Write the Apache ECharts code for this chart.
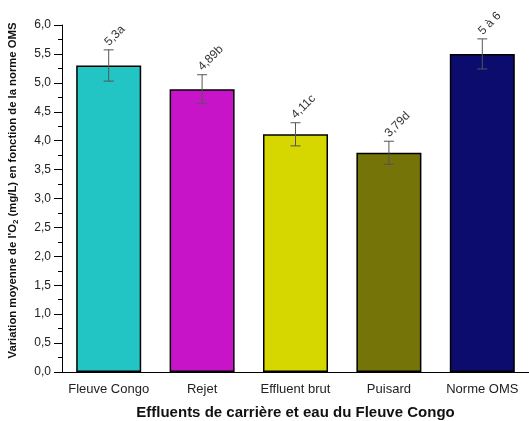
<!DOCTYPE html>
<html>
<head>
<meta charset="utf-8">
<script src="https://cdn.jsdelivr.net/npm/echarts@6/dist/echarts.min.js"></script>
<style>html,body{margin:0;padding:0;background:#fff}#c{width:529px;height:421px}</style>
</head>
<body>
<div id="c"></div>
<script>
const categories = ['Fleuve Congo', 'Rejet', 'Effluent brut', 'Puisard', 'Norme OMS'];
const means = [5.3, 4.89, 4.11, 3.79, 5.5];
const errors = [0.27, 0.25, 0.2, 0.2, 0.26];
const barLabels = ['5,3a', '4,89b', '4,11c', '3,79d', '5 à 6'];
const barColors = ['#22C4C4', '#C814C8', '#D6D600', '#747408', '#0C0C6E'];
const yTicks = [0, 0.5, 1, 1.5, 2, 2.5, 3, 3.5, 4, 4.5, 5, 5.5, 6];

const font = '"Liberation Sans", Arial, sans-serif';
const chart = echarts.init(document.getElementById('c'), null, {renderer: 'canvas'});

chart.setOption({
  animation: false,
  grid: {left: 62, right: 0, top: 25, bottom: 49, containLabel: false, outerBoundsMode: 'none'},
  xAxis: [{
    type: 'category',
    data: categories,
    axisLine: {lineStyle: {color: '#000', width: 1}},
    axisTick: {alignWithLabel: true, interval: 0, length: 5, lineStyle: {color: '#000'}},
    axisLabel: {interval: 0, color: '#222', fontFamily: font, fontSize: 13, margin: 11},
    name: 'Effluents de carrière et eau du Fleuve Congo',
    nameLocation: 'middle',
    nameGap: 33,
    nameTextStyle: {color: '#111', fontFamily: font, fontSize: 15, fontWeight: 'bold'}
  }, {
    type: 'category',
    data: categories,
    position: 'bottom',
    axisLine: {show: false},
    axisTick: {interval: 0, length: 3, lineStyle: {color: '#000'}},
    axisLabel: {show: false}
  }],
  yAxis: {
    type: 'value',
    min: yTicks[0],
    max: yTicks[yTicks.length - 1],
    interval: 0.5,
    axisLine: {show: true, lineStyle: {color: '#000', width: 1}},
    axisTick: {show: true, length: 8, lineStyle: {color: '#000'}},
    minorTick: {show: true, splitNumber: 2, length: 4, lineStyle: {color: '#000'}},
    splitLine: {show: false},
    axisLabel: {
      color: '#222', fontFamily: font, fontSize: 12, margin: 11,
      formatter: v => v.toFixed(1).replace('.', ',')
    },
    name: "Variation moyenne de l'O{sub|2} (mg/L) en fonction de la norme OMS",
    nameLocation: 'middle',
    nameGap: 42,
    nameTextStyle: {
      color: '#111', fontFamily: font, fontSize: 11.3, fontWeight: 'bold',
      padding: [0, 0, 0, 16],
      rich: {sub: {fontSize: 8, fontWeight: 'bold', fontFamily: font, color: '#111', verticalAlign: 'bottom', padding: [6, 0, 0, 0]}}
    }
  },
  series: [{
    type: 'bar',
    data: means.map((v, i) => ({value: v, itemStyle: {color: barColors[i]}})),
    barWidth: 65,
    itemStyle: {borderColor: '#000', borderWidth: 1.5}
  }, {
    type: 'custom',
    data: means.map((v, i) => [i, v, errors[i]]),
    z: 10,
    renderItem: (params, api) => {
      const i = api.value(0), m = api.value(1), e = api.value(2);
      const top = api.coord([i, m + e]);
      const bot = api.coord([i, m - e]);
      const cap = 5;
      const st = {stroke: '#555', lineWidth: 1};
      return {
        type: 'group',
        children: [
          {type: 'line', shape: {x1: top[0], y1: top[1], x2: bot[0], y2: bot[1]}, style: st},
          {type: 'line', shape: {x1: top[0] - cap, y1: top[1], x2: top[0] + cap, y2: top[1]}, style: st},
          {type: 'line', shape: {x1: bot[0] - cap, y1: bot[1], x2: bot[0] + cap, y2: bot[1]}, style: st},
          {type: 'text', x: top[0] - 2, y: top[1] - 6, rotation: Math.PI / 4,
           style: {text: barLabels[params.dataIndex], fill: '#333', font: '12px ' + font,
                   textAlign: 'left', textVerticalAlign: 'middle'}}
        ]
      };
    }
  }]
});
</script>
</body>
</html>
